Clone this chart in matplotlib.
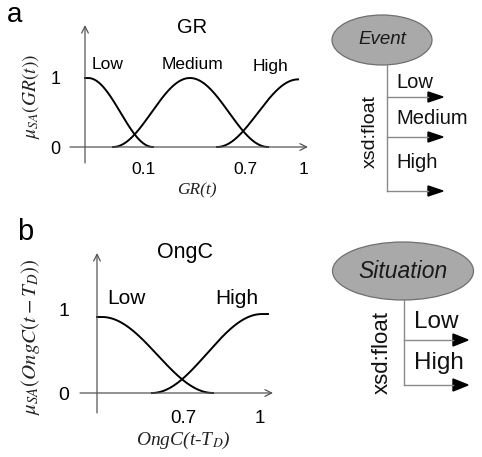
import numpy as np
import matplotlib
matplotlib.use("Agg")
import matplotlib.pyplot as plt
from matplotlib.patches import Ellipse, Polygon

plt.rcParams['font.family'] = ['Liberation Sans', 'DejaVu Sans']
plt.rcParams['mathtext.fontset'] = 'stix'

W, H = 482, 457

# ---- membership functions (positions along the schematic axis) ----
# panel a: GR(t)
gr_tick_pos = [0.269, 0.731, 1.0]
gr_tick_labels = ['0.1', '0.7', '1']
gr_low = dict(flat_end=0.014, zero=0.31, start=0.0, peak=1.0)
gr_medium = dict(rise0=0.128, peak_at=0.479, fall0=0.836, peak=1.0)
gr_high = dict(rise0=0.603, peak_at=0.973, peak=0.98)
gr_terms = ['Low', 'Medium', 'High']
gr_term_pos = [(0.105, 1.19), (0.493, 1.19), (0.845, 1.16)]

# panel b: OngC(t - T_D)
ongc_tick_pos = [0.528, 1.0]
ongc_tick_labels = ['0.7', '1']
ongc_low = dict(flat_end=0.03, zero=0.712, start=0.0, peak=0.905)
ongc_high = dict(rise0=0.337, peak_at=1.012, end=1.049, peak=0.94)
ongc_terms = ['Low', 'High']
ongc_term_pos = [(0.178, 1.13), (0.859, 1.13)]

# ontology boxes
event_props = ['Low', 'Medium', 'High']
situation_props = ['Low', 'High']


def falling(x0, x1, peak, n=200, start=None):
    xs = np.linspace(x0, x1, n)
    t = (xs - x0) / (x1 - x0)
    return xs, peak * 0.5 * (1 + np.cos(np.pi * t))


def rising(x0, x1, peak, n=200):
    xs = np.linspace(x0, x1, n)
    t = (xs - x0) / (x1 - x0)
    return xs, peak * 0.5 * (1 - np.cos(np.pi * t))


def fx(x):
    return x / W


def fy(y):
    return 1 - y / H


fig = plt.figure(figsize=(W / 100, H / 100), dpi=100)

AX_COL = '#555555'
ARROW_KW = dict(arrowstyle='->', color=AX_COL, lw=0.9, mutation_scale=12,
                shrinkA=0, shrinkB=0)


def make_panel(left, right, top, base, x0px, xunit, yunit):
    ax = fig.add_axes([fx(left), fy(base), (right - left) / W, (base - top) / H])
    ax.set_xlim((left - x0px) / xunit, (right - x0px) / xunit)
    ax.set_ylim(0, (base - top) / yunit)
    for s in ax.spines.values():
        s.set_visible(False)
    ax.patch.set_alpha(0)
    return ax


# ---------------- panel a ----------------
axa = make_panel(70, 308, 25, 147, 85, 219, 69)
xl, xr = axa.get_xlim()
yb = -16 / 69
axa.annotate('', xy=(0, axa.get_ylim()[1]), xytext=(0, yb), arrowprops=ARROW_KW,
             annotation_clip=False)
axa.annotate('', xy=(xr, 0), xytext=(xl, 0), arrowprops=ARROW_KW,
             annotation_clip=False)

xs = [gr_low['start'], gr_low['flat_end']]
ys = [gr_low['peak'], gr_low['peak']]
x2, y2 = falling(gr_low['flat_end'], gr_low['zero'], gr_low['peak'])
axa.plot(np.r_[xs, x2], np.r_[ys, y2], color='black', lw=1.4, clip_on=False)
x1, y1 = rising(gr_medium['rise0'], gr_medium['peak_at'], gr_medium['peak'])
x2, y2 = falling(gr_medium['peak_at'], gr_medium['fall0'], gr_medium['peak'])
axa.plot(np.r_[x1, x2], np.r_[y1, y2], color='black', lw=1.4, clip_on=False)
x1, y1 = rising(gr_high['rise0'], gr_high['peak_at'], gr_high['peak'])
axa.plot(x1, y1, color='black', lw=1.4, clip_on=False)

for name, (px, py) in zip(gr_terms, gr_term_pos):
    axa.text(px, py, name, ha='center', va='center', fontsize=12.5)
axa.text(0.489, 1.725, 'GR', ha='center', va='center', fontsize=14.5)

axa.set_xticks(gr_tick_pos, gr_tick_labels, fontsize=12.5)
axa.set_yticks([0, 1], ['0', '1'], fontsize=13)
axa.tick_params(axis='x', length=0, pad=11)
axa.tick_params(axis='y', length=0, pad=7)

fig.text(fx(197), fy(190), 'GR(t)', ha='center', va='center', fontsize=12.5,
         family='Liberation Serif', style='italic', color='#222222')
fig.text(fx(31), fy(96), r'$\mu_{SA}(GR(t))$', ha='center', va='center',
         rotation=90, fontsize=14, color='#222222')

# ---------------- panel b ----------------
axb = make_panel(80, 273, 253, 393, 97, 163, 84)
xl, xr = axb.get_xlim()
yb = -20 / 84
axb.annotate('', xy=(0, axb.get_ylim()[1]), xytext=(0, yb), arrowprops=ARROW_KW,
             annotation_clip=False)
axb.annotate('', xy=(xr, 0), xytext=(xl, 0), arrowprops=ARROW_KW,
             annotation_clip=False)

xs = [ongc_low['start'], ongc_low['flat_end']]
ys = [ongc_low['peak'], ongc_low['peak']]
x2, y2 = falling(ongc_low['flat_end'], ongc_low['zero'], ongc_low['peak'])
axb.plot(np.r_[xs, x2], np.r_[ys, y2], color='black', lw=1.4, clip_on=False)
x1, y1 = rising(ongc_high['rise0'], ongc_high['peak_at'], ongc_high['peak'])
axb.plot(np.r_[x1, ongc_high['end']], np.r_[y1, ongc_high['peak']],
         color='black', lw=1.4, clip_on=False)

for name, (px, py) in zip(ongc_terms, ongc_term_pos):
    axb.text(px, py, name, ha='center', va='center', fontsize=15)
axb.text(0.54, 1.667, 'OngC', ha='center', va='center', fontsize=15.5)

axb.set_xticks(ongc_tick_pos, ongc_tick_labels, fontsize=13.5)
axb.set_yticks([0, 1], ['0', '1'], fontsize=14)
axb.tick_params(axis='x', length=0, pad=12)
axb.tick_params(axis='y', length=0, pad=8)

fig.text(fx(183), fy(440), r'OngC(t-T$_{D}$)', ha='center', va='center',
         fontsize=14, family='Liberation Serif', style='italic', color='#222222')
fig.text(fx(31), fy(337), r'$\mu_{SA}(OngC(t-T_D))$', ha='center', va='center',
         rotation=90, fontsize=15, color='#222222')

# panel letters
fig.text(fx(15), fy(15), 'a', ha='center', va='center', fontsize=20)
fig.text(fx(25), fy(232), 'b', ha='center', va='center', fontsize=21)

# ---------------- ontology diagrams ----------------
ov = fig.add_axes([0, 0, 1, 1])
ov.set_xlim(0, W)
ov.set_ylim(H, 0)
ov.axis('off')
ov.patch.set_alpha(0)

LINE_COL = '#8a8a8a'


def diagram(cx, cy, ew, eh, title, title_fs, stem_x, stem_bottom, arrow_ys,
            tip_x, head_len, head_h, props, label_x, label_ys, label_fs,
            dtype_x, dtype_y, dtype_fs):
    ov.add_patch(Ellipse((cx, cy), ew, eh, facecolor='#a9a9a9',
                         edgecolor='#6f6f6f', lw=0.9))
    ov.text(cx, cy, title, ha='center', va='center', fontsize=title_fs,
            style='italic', color='#1a1a1a')
    ov.plot([stem_x, stem_x], [cy + eh / 2, stem_bottom], color=LINE_COL, lw=1.0)
    for ay in arrow_ys:
        ov.plot([stem_x, tip_x - head_len], [ay, ay], color=LINE_COL, lw=1.0)
        ov.add_patch(Polygon([[tip_x - head_len, ay - head_h / 2],
                              [tip_x, ay],
                              [tip_x - head_len, ay + head_h / 2]],
                             closed=True, facecolor='black', edgecolor='black'))
    for name, ly in zip(props, label_ys):
        ov.text(label_x, ly, name, ha='left', va='center', fontsize=label_fs,
                color='#111111')
    ov.text(dtype_x, dtype_y, 'xsd:float', ha='center', va='center',
            rotation=90, fontsize=dtype_fs, color='#111111')


diagram(382, 40, 100, 50, 'Event', 13.5, 387, 191, [97, 137, 191], 443, 15, 10,
        event_props, 396, [82, 118, 162], 14.5, 370, 131, 14)
diagram(403, 271, 141, 58, 'Situation', 16.5, 404, 385, [340, 385], 468, 15, 12,
        situation_props, 414, [322, 363], 17.5, 382, 353, 16)

fig.savefig('out.png', dpi=100)
